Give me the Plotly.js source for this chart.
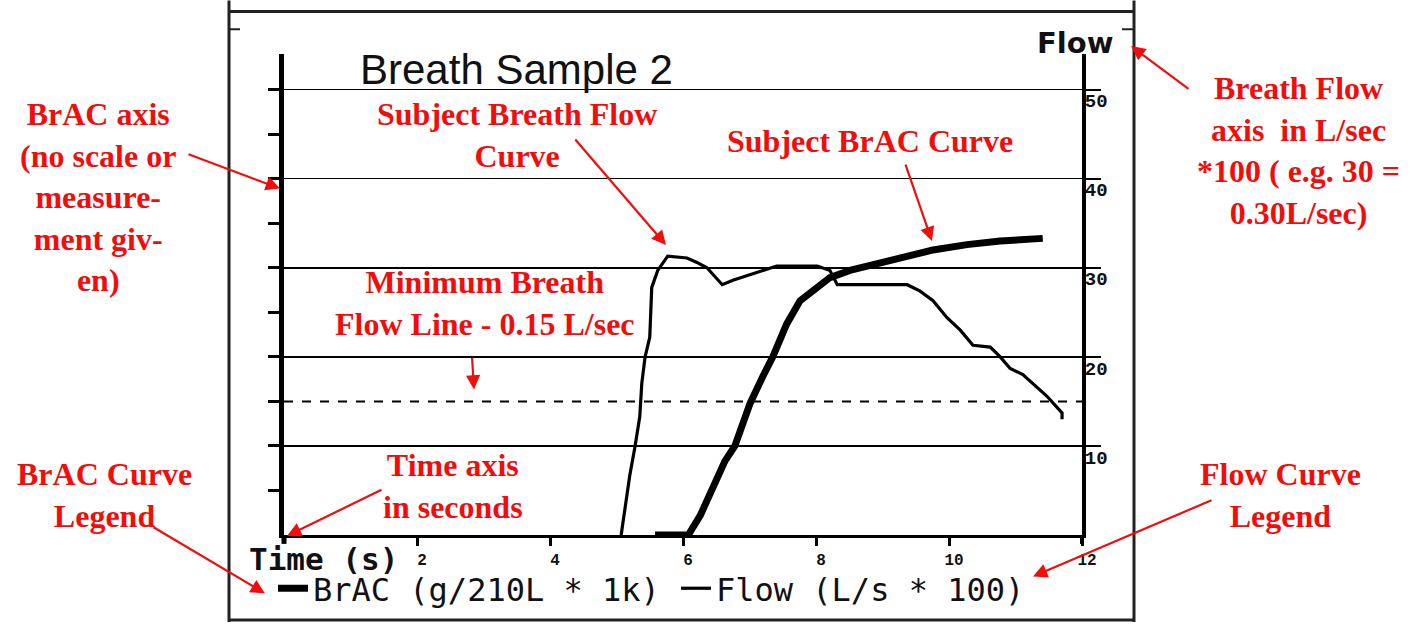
<!DOCTYPE html>
<html>
<head>
<meta charset="utf-8">
<script src="https://cdn.plot.ly/plotly-3.0.1.min.js"></script>
<style>
html,body{margin:0;padding:0;background:#fff;}
#chart{width:1421px;height:628px;}
</style>
</head>
<body>
<div id="chart"></div>
<script>
// ---- data ----
const chartTitle = "Breath Sample 2";
const flowName = "Flow (L/s * 100)";
const bracName = "BrAC (g/210L * 1k)";
const xTickVals = [2, 4, 6, 8, 10, 12];
const xTickText = ["2", "4", "6", "8", "10", "12"];
const flowTickVals = [10, 20, 30, 40, 50];
const bracTickVals = [5, 10, 15, 20, 25, 30, 35, 40, 45, 50];
const minFlowLine = 15; // 0.15 L/sec * 100

const flowTime = [5.07, 5.20, 5.28, 5.35, 5.38, 5.43, 5.50, 5.53, 5.62, 5.77, 6.06, 6.21, 6.36, 6.59, 6.75, 7.01, 7.41, 8.02, 8.21, 8.32, 9.37, 9.56, 9.76, 9.97, 10.17, 10.36, 10.62, 10.77, 10.92, 11.11, 11.26, 11.47, 11.70, 11.70];
const flowVal  = [0, 6.7, 10, 13.3, 17, 20, 22.2, 27.8, 29.7, 31.3, 31.1, 30.6, 30, 28.1, 28.6, 29.2, 30.2, 30.2, 29.7, 28.1, 28.1, 27.4, 26.3, 24.4, 23, 21.3, 21.1, 20, 18.7, 18, 17, 15.6, 13.7, 13];

const bracTime = [5.58, 6.08, 6.26, 6.41, 6.63, 6.78, 7.01, 7.20, 7.35, 7.56, 7.76, 7.95, 8.21, 8.51, 8.77, 9.26, 9.76, 10.27, 10.77, 11.41];
const bracVal  = [0, 0, 2.2, 4.8, 8.3, 10, 14.8, 17.8, 20, 23.7, 26.3, 27.4, 28.9, 29.7, 30.2, 31.1, 32, 32.6, 33, 33.3];

// ---- geometry helpers (pixel -> paper) ----
const W = 1421, H = 628;
const L = 284, R = 1082, T = 54, B = 540;
const px = x => (x - L) / (R - L);
const py = y => (B - y) / (B - T);

const RED = "#f20d0d";
const redFont = {family: "Liberation Serif, Times New Roman, serif", size: 32, color: RED, weight: 700};

function note(text, cx, cy) {
  return {text: text, x: px(cx), y: py(cy), xref: "paper", yref: "paper",
    xanchor: "center", yanchor: "middle", showarrow: false, font: redFont, align: "center"};
}
function arrow(tx, ty, hx, hy) {
  return {text: "", x: px(hx), y: py(hy), xref: "paper", yref: "paper",
    ax: tx - hx, ay: ty - hy, showarrow: true, arrowcolor: RED, arrowwidth: 2.2,
    arrowhead: 2, arrowsize: 1.3, standoff: 0, startstandoff: 0};
}

const traces = [
  {x: bracTime, y: bracVal, name: bracName, type: "scatter", mode: "lines", yaxis: "y2",
   line: {color: "#000", width: 7}},
  {x: flowTime, y: flowVal, name: flowName, type: "scatter", mode: "lines", yaxis: "y",
   line: {color: "#000", width: 3.2}}
];

const frame = {type: "line", xref: "paper", yref: "paper", line: {color: "#222", width: 3}};
const shapes = [
  Object.assign({}, frame, {x0: px(229), x1: px(229), y0: py(0), y1: py(628)}),
  Object.assign({}, frame, {x0: px(1134), x1: px(1134), y0: py(0), y1: py(628)}),
  Object.assign({}, frame, {x0: px(229), x1: px(1134), y0: py(11), y1: py(11)}),
  Object.assign({}, frame, {x0: px(229), x1: px(1134), y0: py(626), y1: py(626)}),
  Object.assign({}, frame, {x0: px(229), x1: px(240), y0: py(29), y1: py(29), line: {color: "#222", width: 2}}),
  Object.assign({}, frame, {x0: px(1122), x1: px(1134), y0: py(29), y1: py(29), line: {color: "#222", width: 2}}),
  // axis extensions
  {type: "line", xref: "paper", yref: "paper", x0: px(284), x1: px(284), y0: py(540), y1: py(549), line: {color: "#000", width: 5}},
  {type: "line", xref: "paper", yref: "paper", x0: px(1082), x1: px(1082), y0: py(540), y1: py(549), line: {color: "#000", width: 4}},
  // minimum breath flow line
  {type: "line", xref: "paper", yref: "y", x0: 0, x1: 1, y0: minFlowLine, y1: minFlowLine,
   line: {color: "#000", width: 2, dash: "dash"}}
];

const annotations = [
  {text: "Flow", x: px(1075), y: py(43), xref: "paper", yref: "paper", xanchor: "center", yanchor: "middle",
   showarrow: false, font: {family: "DejaVu Sans, Verdana, sans-serif", size: 29, color: "#111", weight: 700}},
  {text: "Time (s)", x: px(247), y: py(564), xref: "paper", yref: "paper", xanchor: "left", yanchor: "middle",
   showarrow: false, font: {family: "DejaVu Sans Mono, monospace", size: 31, color: "#111", weight: 700}},
  note("BrAC axis<br>(no scale or<br>measure-<br>ment giv-<br>en)", 98, 198),
  note("Subject Breath Flow<br>Curve", 517, 136),
  note("Subject BrAC Curve", 870, 142),
  note("Minimum Breath<br>Flow Line - 0.15 L/sec", 485, 306),
  note("Time axis<br>in seconds", 453, 490),
  note("BrAC Curve<br>Legend", 104, 500),
  note("Flow Curve<br>Legend", 1280, 500),
  note("Breath Flow<br>axis  in L/sec<br>*100 ( e.g. 30 =<br>0.30L/sec)", 1298, 152),
  arrow(187, 155, 280, 190),
  arrow(574, 140, 666, 247),
  arrow(905, 165, 932, 243),
  arrow(472, 360, 474, 393),
  arrow(383, 494, 287, 541),
  arrow(152, 532, 265, 599),
  arrow(1213, 505, 1033, 582),
  arrow(1190, 90, 1131, 46)
];

const yTickFont = {family: "Liberation Mono, Courier New, monospace", size: 19, color: "#111", weight: 700};
const xTickFont = {family: "Liberation Mono, Courier New, monospace", size: 16, color: "#111", weight: 700};

const layout = {
  width: W, height: H,
  margin: {l: L, r: W - R, t: T, b: H - B, pad: 0},
  paper_bgcolor: "#fff", plot_bgcolor: "#fff",
  title: {text: chartTitle, x: 360 / W, xanchor: "left", xref: "container",
          y: 1 - 69 / H, yanchor: "middle", yref: "container",
          font: {family: "Liberation Sans Narrow, Arial Narrow, sans-serif", size: 42, color: "#111"}},
  showlegend: true,
  legend: {orientation: "h", x: px(273), xanchor: "left", y: py(594), yanchor: "middle",
           font: {family: "DejaVu Sans Mono, monospace", size: 32, color: "#111"},
           itemwidth: 30, entrywidth: 358, entrywidthmode: "pixels",
           bgcolor: "rgba(0,0,0,0)", borderwidth: 0, traceorder: "normal"},
  xaxis: {range: [0, 12], tickvals: xTickVals, ticktext: xTickText, ticks: "outside", ticklen: 8,
          tickwidth: 3, tickcolor: "#000", showline: true, linewidth: 3, linecolor: "#000",
          showgrid: false, zeroline: false, tickfont: xTickFont, ticklabelshift: 5, fixedrange: true},
  yaxis: {range: [0, 54], side: "right", tickvals: flowTickVals, ticks: "outside", ticklen: 15,
          tickwidth: 2, tickcolor: "#000", showline: true, linewidth: 4, linecolor: "#000",
          showgrid: true, gridcolor: "#000", gridwidth: 1.5, zeroline: false,
          tickfont: yTickFont, ticklabelshift: 11, ticklabelstandoff: -20, fixedrange: true},
  yaxis2: {range: [0, 54], side: "left", overlaying: "y", tickvals: bracTickVals, ticks: "outside",
           ticklen: 11, tickwidth: 3, tickcolor: "#000", showline: true, linewidth: 5, linecolor: "#000",
           showgrid: false, zeroline: false, showticklabels: false, fixedrange: true},
  shapes: shapes,
  annotations: annotations
};

Plotly.newPlot("chart", traces, layout, {displayModeBar: false, staticPlot: true});
</script>
</body>
</html>
